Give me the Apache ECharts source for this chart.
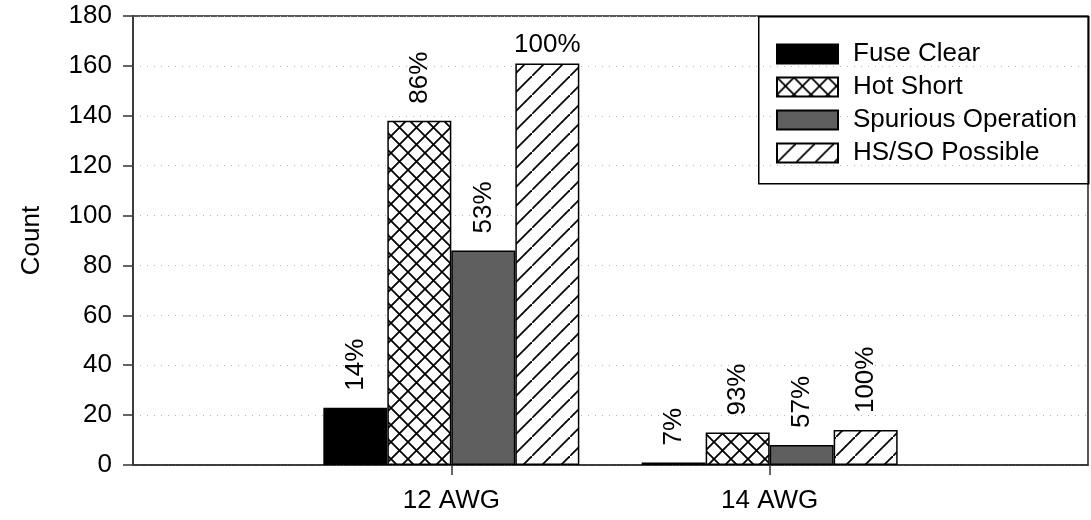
<!DOCTYPE html>
<html>
<head>
<meta charset="utf-8">
<script src="https://cdn.jsdelivr.net/npm/echarts@6/dist/echarts.min.js"></script>
<style>
html,body{margin:0;padding:0;background:#fff;}
#chart{width:1091px;height:520px;}
</style>
</head>
<body>
<div id="chart"></div>
<script>
// ---- data ----
var categories = ['12 AWG', '14 AWG'];
var seriesNames = ['Fuse Clear', 'Hot Short', 'Spurious Operation', 'HS/SO Possible'];
var fuseClear = [23, 1];
var hotShort = [138, 13];
var spuriousOp = [86, 8];
var hsSoPossible = [161, 14];
var fuseClearPct = ['14%', '7%'];
var hotShortPct = ['86%', '93%'];
var spuriousOpPct = ['53%', '57%'];
var hsSoPossiblePct = ['100%', '100%'];
var yTicks = [0, 20, 40, 60, 80, 100, 120, 140, 160, 180];

// ---- patterns ----
function crossHatch() {
  var s = 17, c = document.createElement('canvas');
  c.width = s; c.height = s;
  var g = c.getContext('2d');
  g.fillStyle = '#fff'; g.fillRect(0, 0, s, s);
  g.strokeStyle = '#000'; g.lineWidth = 1.8;
  g.beginPath();
  g.moveTo(-1, -1); g.lineTo(s + 1, s + 1);
  g.moveTo(s + 1, -1); g.lineTo(-1, s + 1);
  g.stroke();
  return c;
}
function diagHatch() {
  var s = 19, c = document.createElement('canvas');
  c.width = s; c.height = s;
  var g = c.getContext('2d');
  g.fillStyle = '#fff'; g.fillRect(0, 0, s, s);
  g.strokeStyle = '#000'; g.lineWidth = 1.8;
  g.beginPath();
  g.moveTo(-1, s + 1); g.lineTo(s + 1, -1);
  g.stroke();
  return c;
}

var axisCats = [''].concat(categories).concat(['']);
var FONT = '"Liberation Sans", Arial, sans-serif';
var FS = 26;

function buildData(vals, pcts) {
  var out = [null];
  for (var i = 0; i < vals.length; i++) {
    var horizontal = vals[i] > 150;
    out.push({
      value: vals[i],
      label: horizontal ?
        { rotate: 0, align: 'center', verticalAlign: 'bottom', distance: 6, formatter: pcts[i] } :
        { rotate: 90, align: 'left', verticalAlign: 'middle', distance: 17, formatter: pcts[i] }
    });
  }
  out.push(null);
  return out;
}

var fills = ['#000000', { image: crossHatch(), repeat: 'repeat' }, '#5f5f5f', { image: diagHatch(), repeat: 'repeat' }];
var vals = [fuseClear, hotShort, spuriousOp, hsSoPossible];
var pcts = [fuseClearPct, hotShortPct, spuriousOpPct, hsSoPossiblePct];

var series = seriesNames.map(function (n, k) {
  return {
    name: n,
    type: 'bar',
    barWidth: 64,
    barGap: '0%',
    data: buildData(vals[k], pcts[k]),
    itemStyle: { color: fills[k], borderColor: '#000', borderWidth: 1.5 },
    label: {
      show: true, position: 'top', color: '#000',
      fontFamily: FONT, fontSize: FS
    },
    emphasis: { disabled: true },
    animation: false
  };
});

var chart = echarts.init(document.getElementById('chart'), null, { renderer: 'canvas' });
chart.setOption({
  animation: false,
  backgroundColor: '#fff',
  textStyle: { fontFamily: FONT, color: '#000' },
  grid: {
    left: 133, top: 16, right: -3, bottom: 55,
    show: true, borderColor: '#222', borderWidth: 1.5, backgroundColor: 'transparent'
  },
  legend: {
    orient: 'vertical',
    left: 776, top: 41,
    itemWidth: 61, itemHeight: 19, itemGap: 7,
    padding: 0,
    textStyle: { fontFamily: FONT, fontSize: FS, color: '#000', padding: [0, 0, 0, 10] },
    data: seriesNames.map(function (n) { return { name: n, icon: 'rect' }; }),
    selectedMode: false
  },
  xAxis: {
    type: 'category',
    data: axisCats,
    boundaryGap: false,
    axisLine: { lineStyle: { color: '#333', width: 1.5 } },
    axisTick: {
      show: true, length: 10, inside: false,
      lineStyle: { color: '#333', width: 1.5 },
      interval: function (i) { return i > 0 && i <= categories.length; }
    },
    axisLabel: {
      interval: 0, margin: 23, fontFamily: FONT, fontSize: FS, color: '#000'
    },
    splitLine: { show: false }
  },
  yAxis: {
    type: 'value',
    min: yTicks[0], max: yTicks[yTicks.length - 1], interval: yTicks[1] - yTicks[0],
    name: 'Count',
    nameLocation: 'middle',
    nameGap: 88,
    nameRotate: 90,
    nameTextStyle: { fontFamily: FONT, fontSize: FS, color: '#000' },
    axisLine: { show: true, lineStyle: { color: '#333', width: 1.5 } },
    axisTick: { show: true, length: 10, inside: false, lineStyle: { color: '#333', width: 1.5 } },
    axisLabel: { margin: 21, fontFamily: FONT, fontSize: FS, color: '#000' },
    splitLine: { show: true, lineStyle: { color: '#b8b8b8', type: [1, 6], width: 1 } }
  },
  graphic: [{
    type: 'rect',
    left: 758, top: 16,
    shape: { width: 330, height: 167 },
    style: { fill: 'transparent', stroke: '#000', lineWidth: 1.5 },
    z: 100, silent: true
  }],
  series: series
});
</script>
</body>
</html>
